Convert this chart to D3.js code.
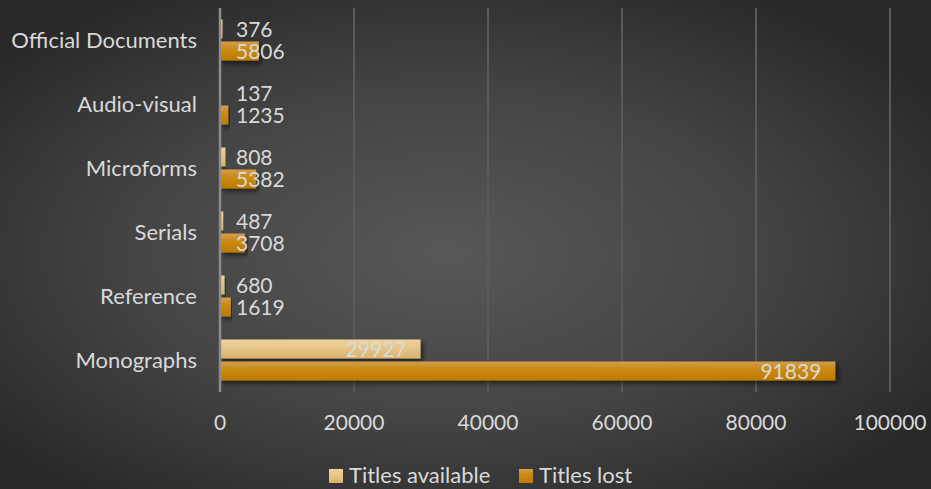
<!DOCTYPE html>
<html>
<head>
<meta charset="utf-8">
<script src="https://cdn.jsdelivr.net/npm/d3@7"></script>
<style>
html,body{margin:0;padding:0;background:#333;}
svg{display:block;}
text{font-family:Lato,"Open Sans",sans-serif;fill:#D9D9D9;}
</style>
</head>
<body>
<svg id="chart" width="931" height="489"></svg>
<script>
const categories = ["Official Documents","Audio-visual","Microforms","Serials","Reference","Monographs"];
const titlesAvailable = [376,137,808,487,680,29927];
const titlesLost = [5806,1235,5382,3708,1619,91839];
const seriesNames = ["Titles available","Titles lost"];
const xTicks = [0,20000,40000,60000,80000,100000];

const W = 931, H = 489;
const svg = d3.select("#chart");
const defs = svg.append("defs");

const bg = defs.append("radialGradient").attr("id","bg")
  .attr("cx","48%").attr("cy","52%").attr("r","62%");
bg.append("stop").attr("offset","0%").attr("stop-color","#585858");
bg.append("stop").attr("offset","55%").attr("stop-color","#444444");
bg.append("stop").attr("offset","100%").attr("stop-color","#292929");

function lin(id, stops){
  const g = defs.append("linearGradient").attr("id",id).attr("x1",0).attr("y1",0).attr("x2",0).attr("y2",1);
  stops.forEach(s=>g.append("stop").attr("offset",s[0]).attr("stop-color",s[1]));
}
lin("gAvail",[["0%","#EFD49C"],["45%","#E6C587"],["100%","#D8B36D"]]);
lin("gLost",[["0%","#D49E50"],["40%","#C98A14"],["100%","#BD7B00"]]);

const f = defs.append("filter").attr("id","shadow").attr("x","-5%").attr("y","-30%").attr("width","115%").attr("height","170%");
f.append("feDropShadow").attr("dx",3).attr("dy",3).attr("stdDeviation",2.5)
  .attr("flood-color","#000").attr("flood-opacity",0.55);

svg.append("rect").attr("width",W).attr("height",H).attr("fill","url(#bg)");

const x = d3.scaleLinear().domain([0,100000]).range([220,890]);
const y = d3.scaleBand().domain(categories).range([8,392]).padding(0);
const barH = 19;

// gridlines
svg.append("g").selectAll("line").data(xTicks.slice(1)).join("line")
  .attr("x1",d=>x(d)).attr("x2",d=>x(d)).attr("y1",8).attr("y2",392)
  .attr("stroke","#5a5a5a").attr("stroke-width",2);

const rows = categories.map((c,i)=>({c, a:titlesAvailable[i], l:titlesLost[i]}));

const bars = svg.append("g");
rows.forEach(r=>{
  const cy = y(r.c) + y.bandwidth()/2;
  bars.append("rect").attr("x",x(0)).attr("y",cy-20.5).attr("width",x(r.a)-x(0)).attr("height",barH)
    .attr("fill","url(#gAvail)").attr("filter","url(#shadow)");
  bars.append("rect").attr("x",x(0)).attr("y",cy+1.5).attr("width",x(r.l)-x(0)).attr("height",barH)
    .attr("fill","url(#gLost)").attr("filter","url(#shadow)");
});

// axis line at 0
svg.append("line").attr("x1",x(0)).attr("x2",x(0)).attr("y1",8).attr("y2",392)
  .attr("stroke","#8c8c8c").attr("stroke-width",2.5);

// data labels
const labels = svg.append("g").attr("font-size",21);
rows.forEach(r=>{
  const cy = y(r.c) + y.bandwidth()/2;
  [[r.a, cy-11],[r.l, cy+11]].forEach(([v,ty])=>{
    const big = v > 20000;
    labels.append("text")
      .attr("x", big ? x(v)-14 : 236)
      .attr("y", ty)
      .attr("dy","0.36em")
      .attr("text-anchor", big ? "end" : "start")
      .text(v);
  });
});

// category labels
svg.append("g").selectAll("text").data(categories).join("text")
  .attr("x",197).attr("y",d=>y(d)+y.bandwidth()/2).attr("dy","0.36em")
  .attr("text-anchor","end").attr("font-size",22).text(d=>d);

// x tick labels
svg.append("g").selectAll("text").data(xTicks).join("text")
  .attr("x",d=>x(d)).attr("y",430).attr("text-anchor","middle").attr("font-size",21).text(d=>d);

// legend
const leg = svg.append("g");
const legItems = [{n:seriesNames[0], fill:"url(#gAvail)", x:329},{n:seriesNames[1], fill:"url(#gLost)", x:519}];
legItems.forEach(it=>{
  leg.append("rect").attr("x",it.x).attr("y",469).attr("width",14).attr("height",14).attr("fill",it.fill);
  leg.append("text").attr("x",it.x+20).attr("y",483).attr("font-size",22).text(it.n);
});
</script>
</body>
</html>
